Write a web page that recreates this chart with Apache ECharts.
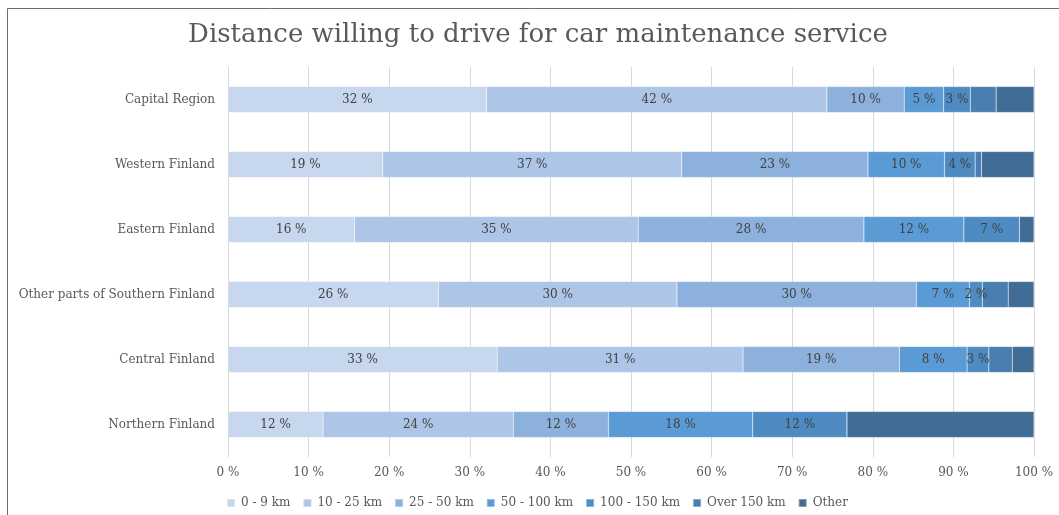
<!DOCTYPE html>
<html>
<head>
<meta charset="utf-8">
<title>Distance willing to drive for car maintenance service</title>
<script src="https://cdn.jsdelivr.net/npm/echarts@6/dist/echarts.min.js"></script>
<style>
  html, body { margin: 0; padding: 0; background: #ffffff; }
  #chart { width: 1059px; height: 515px; }
</style>
</head>
<body>
<div id="chart"></div>
<script>
// Regions, top to bottom
const regions = [
  'Capital Region',
  'Western Finland',
  'Eastern Finland',
  'Other parts of Southern Finland',
  'Central Finland',
  'Northern Finland'
];

// Distance bands (stack order, left to right)
const bands = ['0 - 9 km', '10 - 25 km', '25 - 50 km', '50 - 100 km', '100 - 150 km', 'Over 150 km', 'Other'];

// Share of respondents (%) per band, one value per region in the order above
const km0to9     = [32.1, 19.2, 15.7, 26.1, 33.4, 11.8];
const km10to25   = [42.2, 37.1, 35.2, 29.6, 30.5, 23.6];
const km25to50   = [ 9.6, 23.1, 28.0, 29.7, 19.4, 11.8];
const km50to100  = [ 4.9,  9.5, 12.4,  6.6,  8.4, 17.9];
const km100to150 = [ 3.3,  3.8,  6.9,  1.6,  2.7, 11.7];
const kmOver150  = [ 3.2,  0.8,  0.0,  3.2,  2.9,  0.0];
const kmOther    = [ 4.7,  6.5,  1.8,  3.2,  2.7, 23.2];

const xTicks = [0, 10, 20, 30, 40, 50, 60, 70, 80, 90, 100];

const bandValues = [km0to9, km10to25, km25to50, km50to100, km100to150, kmOver150, kmOther];
const bandColors = ['#c7d7ee', '#adc5e7', '#8cb1dd', '#5b9bd5', '#4f8bc3', '#4a7eb0', '#416c96'];
const labelledBands = 5;

const FONT = '"DejaVu Serif", "Liberation Serif", serif';
const TEXT = '#595959';

const series = bands.map((name, i) => ({
  name: name,
  type: 'bar',
  stack: 'total',
  barWidth: 26,
  data: bandValues[i],
  itemStyle: { color: bandColors[i], borderColor: 'rgba(255,255,255,0.35)', borderWidth: 0.5 },
  label: {
    show: i < labelledBands,
    position: 'inside',
    color: '#404040',
    fontFamily: FONT,
    fontSize: 12,
    formatter: p => Math.round(p.value) + ' %'
  },
  emphasis: { disabled: true }
}));

const chart = echarts.init(document.getElementById('chart'), null, { renderer: 'canvas' });
chart.setOption({
  animation: false,
  backgroundColor: '#ffffff',
  title: {
    text: 'Distance willing to drive for car maintenance service',
    left: 533,
    textAlign: 'center',
    top: 17,
    textStyle: { fontFamily: FONT, fontWeight: 'normal', fontSize: 26, color: TEXT }
  },
  graphic: [{
    type: 'rect',
    shape: { x: 7.5, y: 8.5, width: 1200, height: 600 },
    style: { fill: 'none', stroke: '#6e6e6e', lineWidth: 1 },
    silent: true
  }],
  legend: {
    data: bands,
    left: 221,
    top: 492,
    icon: 'rect',
    itemWidth: 8,
    itemHeight: 8,
    itemGap: 12,
    textStyle: { fontFamily: FONT, fontSize: 12, color: TEXT, padding: [0, 0, 0, 1] }
  },
  grid: { left: 228, right: 25, top: 67, bottom: 58, containLabel: false },
  xAxis: {
    type: 'value',
    min: xTicks[0],
    max: xTicks[xTicks.length - 1],
    interval: 10,
    axisLine: { show: false },
    axisTick: { show: false },
    splitLine: { show: true, lineStyle: { color: '#d9d9d9', width: 1 } },
    axisLabel: {
      fontFamily: FONT, fontSize: 12, color: TEXT, margin: 10,
      formatter: v => v + ' %'
    }
  },
  yAxis: {
    type: 'category',
    data: regions,
    inverse: true,
    axisLine: { show: false },
    axisTick: { show: false },
    axisLabel: { fontFamily: FONT, fontSize: 12, color: TEXT, margin: 13 }
  },
  series: series
});
</script>
</body>
</html>
